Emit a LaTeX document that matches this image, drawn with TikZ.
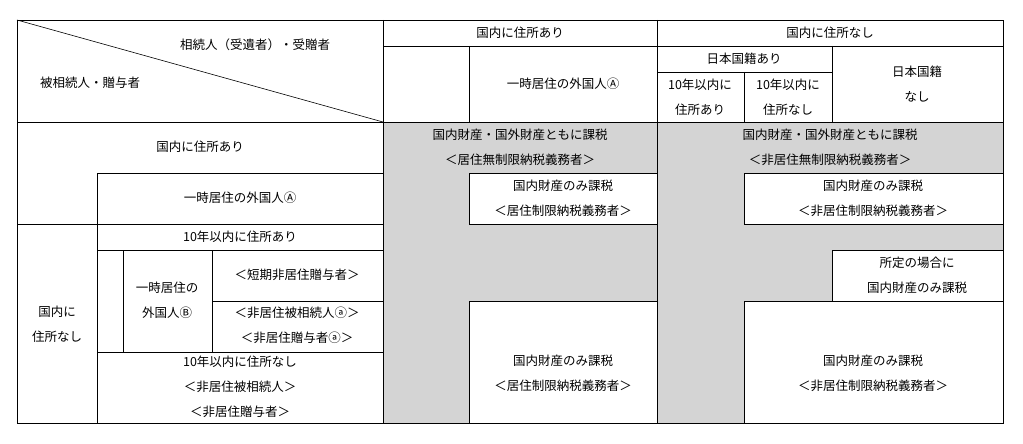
\documentclass[tikz,border=0pt]{standalone}
\usepackage{fontspec}
\setmainfont{Noto Sans CJK JP}
\begin{document}
\begin{tikzpicture}[x=1pt,y=-1pt,
 ln/.style={draw=black,line width=0.6pt},
 wcell/.style={fill=white,draw=black,line width=0.6pt},
 txt/.style={font=\fontsize{12.5}{25}\selectfont,align=center,inner sep=0pt}]
\useasboundingbox (0,0) rectangle (1023,444);
\fill[white] (0,0) rectangle (1023,444);
\fill[black!17] (383,122) rectangle (1003,423);
% white cells in body
\draw[wcell] (469,173) rectangle (657,224);
\draw[wcell] (744,173) rectangle (1003,224);
\draw[wcell] (832,250) rectangle (1003,301);
\draw[wcell] (469,301) rectangle (657,423);
\draw[wcell] (744,301) rectangle (1003,423);
% outer and header
\draw[ln] (17,20) rectangle (1003,423);
\draw[ln] (17,122) -- (1003,122);
\draw[ln] (17,20) -- (383,122);
\draw[ln] (383,20) -- (383,423);
\draw[ln] (657,20) -- (657,423);
\draw[ln] (383,46) -- (1003,46);
\draw[ln] (469,46) -- (469,122);
\draw[ln] (657,72) -- (832,72);
\draw[ln] (832,46) -- (832,122);
\draw[ln] (744,72) -- (744,122);
% left body
\draw[ln] (97,173) -- (383,173);
\draw[ln] (97,173) -- (97,423);
\draw[ln] (17,224) -- (383,224);
\draw[ln] (97,250) -- (383,250);
\draw[ln] (123,250) -- (123,352);
\draw[ln] (212,250) -- (212,352);
\draw[ln] (212,301) -- (383,301);
\draw[ln] (97,352) -- (383,352);
% header texts
\node[txt] (h1) at (255,45) {相続人（受遺者）・受贈者};
\node[txt] (h2) at (90,83) {被相続人・贈与者};
\node[txt] (h3) at (520,33) {国内に住所あり};
\node[txt] (h4) at (830,33) {国内に住所なし};
\node[txt] (h5) at (563,84) {一時居住の外国人Ⓐ};
\node[txt] (h6) at (744,59) {日本国籍あり};
\node[txt] (h7) at (700,97) {10年以内に\\住所あり};
\node[txt] (h8) at (788,97) {10年以内に\\住所なし};
\node[txt] (h9) at (917,84) {日本国籍\\なし};
% left texts
\node[txt] (l1) at (200,147) {国内に住所あり};
\node[txt] (l2) at (240,198) {一時居住の外国人Ⓐ};
\node[txt] (l3) at (57,324) {国内に\\住所なし};
\node[txt] (l4) at (240,237) {10年以内に住所あり};
\node[txt] (l5) at (167,300) {一時居住の\\外国人Ⓑ};
\node[txt] (l6) at (297,275) {＜短期非居住贈与者＞};
\node[txt] (l7) at (297,325) {＜非居住被相続人ⓐ＞\\＜非居住贈与者ⓐ＞};
\node[txt] (l8) at (240,387) {10年以内に住所なし\\＜非居住被相続人＞\\＜非居住贈与者＞};
% body texts
\node[txt] (b1) at (520,147) {国内財産・国外財産ともに課税\\＜居住無制限納税義務者＞};
\node[txt] (b2) at (830,147) {国内財産・国外財産ともに課税\\＜非居住無制限納税義務者＞};
\node[txt] (b3) at (563,198) {国内財産のみ課税\\＜居住制限納税義務者＞};
\node[txt] (b4) at (873,198) {国内財産のみ課税\\＜非居住制限納税義務者＞};
\node[txt] (b5) at (917,275) {所定の場合に\\国内財産のみ課税};
\node[txt] (b6) at (563,373) {国内財産のみ課税\\＜居住制限納税義務者＞};
\node[txt] (b7) at (873,373) {国内財産のみ課税\\＜非居住制限納税義務者＞};
\end{tikzpicture}
\end{document}
